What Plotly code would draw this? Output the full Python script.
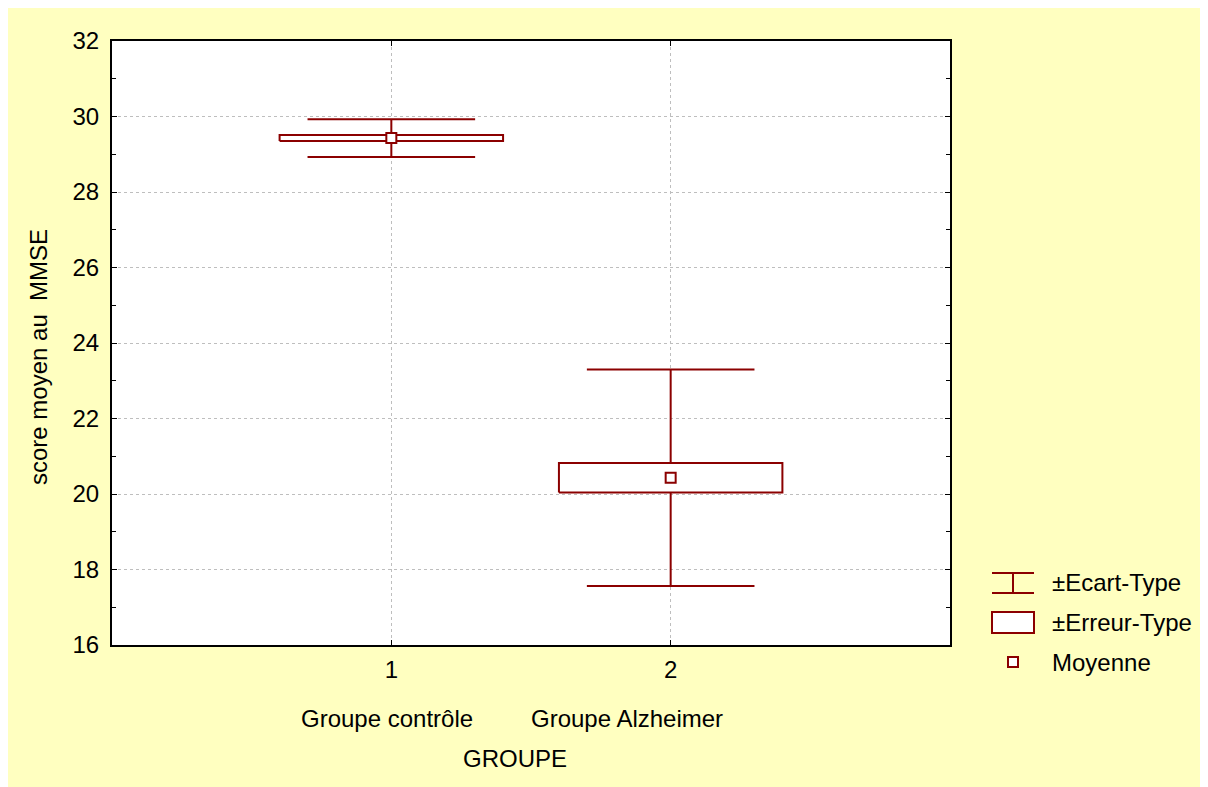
import plotly.graph_objects as go

# ---- data ----
groups = [1, 2]
group_labels = ["Groupe contrôle", "Groupe Alzheimer"]
means = [29.43, 20.43]
sds = [0.50, 2.87]
ses = [0.08, 0.39]
y_ticks = [16, 18, 20, 22, 24, 26, 28, 30, 32]

RED = "#8B0000"
YEL = "#FFFFC0"
FONT = "Liberation Sans, Arial, sans-serif"
FS = 24

OFF = 8                 # page body margin
WF, HF = 1200, 779      # figure size
L, R, T, B = 112, 950, 41, 645   # plot area in page pixels

def px(x):
    return (x - L) / (R - L)

def py(y):
    return (B - y) / (B - T)

box_hw = 0.4
cap_hw = 0.3

fig = go.Figure()

# whiskers (SD) outside the SE box
wx, wy = [], []
for g, m, sd, se in zip(groups, means, sds, ses):
    wx += [g, g, None, g - cap_hw, g + cap_hw, None]
    wy += [m + se, m + sd, None, m + sd, m + sd, None]
    wx += [g, g, None, g - cap_hw, g + cap_hw, None]
    wy += [m - se, m - sd, None, m - sd, m - sd, None]
fig.add_trace(go.Scatter(x=wx, y=wy, mode="lines", line=dict(color=RED, width=2),
                         showlegend=False, hoverinfo="skip"))

# SE boxes
for g, m, se in zip(groups, means, ses):
    fig.add_trace(go.Scatter(
        x=[g - box_hw, g + box_hw, g + box_hw, g - box_hw, g - box_hw],
        y=[m - se, m - se, m + se, m + se, m - se],
        mode="lines", fill="toself", fillcolor="white",
        line=dict(color=RED, width=2), showlegend=False, hoverinfo="skip"))

# means
fig.add_trace(go.Scatter(x=groups, y=means, mode="markers",
                         marker=dict(symbol="square", size=10, color="white",
                                     line=dict(color=RED, width=2)),
                         showlegend=False))

shapes = []
# manual legend
lx0, lx1, lxc = 992, 1034, 1013
shapes += [
    dict(type="line", xref="paper", yref="paper", x0=px(lx0), x1=px(lx1), y0=py(573), y1=py(573),
         line=dict(color=RED, width=2)),
    dict(type="line", xref="paper", yref="paper", x0=px(lx0), x1=px(lx1), y0=py(593), y1=py(593),
         line=dict(color=RED, width=2)),
    dict(type="line", xref="paper", yref="paper", x0=px(lxc), x1=px(lxc), y0=py(573), y1=py(593),
         line=dict(color=RED, width=2)),
    dict(type="rect", xref="paper", yref="paper", x0=px(lx0), x1=px(lx1), y0=py(612), y1=py(633),
         fillcolor="white", line=dict(color=RED, width=2)),
    dict(type="rect", xref="paper", yref="paper", x0=px(1008), x1=px(1018), y0=py(657), y1=py(667),
         fillcolor="white", line=dict(color=RED, width=2)),
]

legend_texts = ["±Ecart-Type", "±Erreur-Type", "Moyenne"]
legend_y = [582, 622, 662]
annotations = []
for t, yy in zip(legend_texts, legend_y):
    annotations.append(dict(text=t, xref="paper", yref="paper", x=px(1050), y=py(yy),
                            xanchor="left", yanchor="middle", showarrow=False,
                            font=dict(family=FONT, size=FS, color="black")))

# category labels
label_cx = [387, 627]
for cx, lab in zip(label_cx, group_labels):
    annotations.append(dict(text=lab, xref="paper", yref="paper", x=px(cx), y=py(718),
                            xanchor="center", yanchor="middle", showarrow=False,
                            font=dict(family=FONT, size=FS, color="black")))
# x title
annotations.append(dict(text="GROUPE", xref="paper", yref="paper", x=px(515), y=py(758),
                        xanchor="center", yanchor="middle", showarrow=False,
                        font=dict(family=FONT, size=FS, color="black")))
# y title
annotations.append(dict(text="score moyen au  MMSE", xref="paper", yref="paper", x=px(38), y=py(357),
                        xanchor="center", yanchor="middle", showarrow=False, textangle=-90,
                        font=dict(family=FONT, size=FS, color="black")))

fig.update_layout(
    width=WF, height=HF,
    margin=dict(l=L - OFF, r=WF - (R - OFF), t=T - OFF, b=HF - (B - OFF), pad=0),
    paper_bgcolor=YEL, plot_bgcolor="white",
    showlegend=False,
    shapes=shapes, annotations=annotations,
    font=dict(family=FONT, size=FS, color="black"),
)
fig.update_xaxes(range=[0, 3], tickvals=groups, ticktext=[str(g) for g in groups],
                 ticks="inside", ticklen=5, tickwidth=1, tickcolor="black",
                 showline=True, linecolor="black", linewidth=2, mirror="ticks",
                 showgrid=True, gridcolor="#BEBEBE", griddash="dot", gridwidth=1,
                 zeroline=False, ticklabelstandoff=2,
                 tickfont=dict(family=FONT, size=FS))
fig.update_yaxes(range=[16, 32], tickvals=y_ticks,
                 ticks="inside", ticklen=5, tickwidth=1, tickcolor="black",
                 minor=dict(dtick=1, tick0=16, ticks="inside", ticklen=4, tickcolor="black", showgrid=False),
                 showline=True, linecolor="black", linewidth=2, mirror="ticks",
                 showgrid=True, gridcolor="#BEBEBE", griddash="dot", gridwidth=1,
                 zeroline=False, ticklabelstandoff=6,
                 tickfont=dict(family=FONT, size=FS))

fig.write_html("out.html")
